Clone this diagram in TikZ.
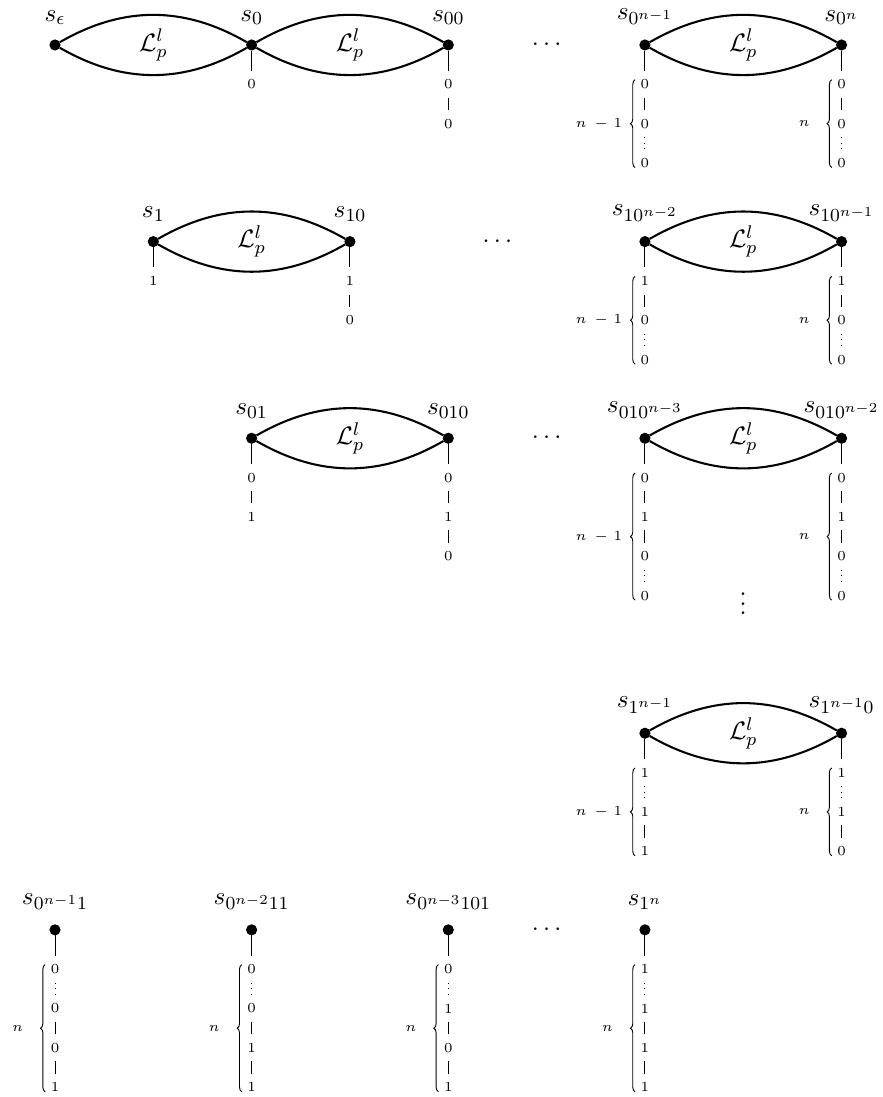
\documentclass[tikz,border=0pt,11pt]{standalone}
\usetikzlibrary{positioning,decorations.pathreplacing}

\begin{document}
\begin{tikzpicture}[
    node distance=0.6cm,
    vertex/.style={circle, minimum size=4.4pt, draw, fill=black, inner sep=0pt},
    vlabel/.style={above=2.5pt},
    bit/.style={rectangle, font=\tiny, inner sep=0pt, minimum height=0.4cm, on grid},
    lens/.style={line width=0.9pt},
    bit_edge/.style={line width=0.4pt},
    dot_edge/.style={line width=0.4pt, dotted},
    brace_line/.style={decorate, decoration={brace, amplitude=2pt}, line width=0.4pt},
    brace_label/.style={font=\tiny}
]
\useasboundingbox (-0.839,0.686) rectangle (12.63,-16.05);

% 第一行顶点
\node[vertex] (se) at (0,0) {};
\node[vertex] (s0) at (3,0) {};
\node[vertex] (s00) at (6,0) {};
\node[vertex] (s0n1) at (9,0) {};
\node[vertex] (s0n) at (12,0) {};

\node[vlabel] (lse) at (se.north) {$s_\epsilon$};
\node[vlabel] (ls0) at (s0.north) {$s_0$};
\node[vlabel] (ls00) at (s00.north) {$s_{00}$};
\node[vlabel] (ls0n1) at (s0n1.north) {$s_{0^{n-1}}$};
\node[vlabel] (ls0n) at (s0n.north) {$s_{0^n}$};

% 第一行透镜边
\draw[lens] (se) to[bend left=30] (s0);
\draw[lens] (se) to[bend right=30] (s0);
\draw[lens] (s0) to[bend left=30] (s00);
\draw[lens] (s0) to[bend right=30] (s00);
\draw[lens] (s0n1) to[bend left=30] (s0n);
\draw[lens] (s0n1) to[bend right=30] (s0n);
\path (se) -- node (L1) {$\mathcal{L}_p^l$} (s0);
\path (s0) -- node (L2) {$\mathcal{L}_p^l$} (s00);
\path (s0n1) -- node (L3) {$\mathcal{L}_p^l$} (s0n);
\node (d1) at (7.5,0) {$\cdots$};

% 第一行比特串
\node[bit, below=of s0] (s0a) {0};
\draw[bit_edge] (s0) -- (s0a);

\node[bit, below=of s00] (s00a) {0};
\node[bit, below=of s00a] (s00b) {0};
\draw[bit_edge] (s00) -- (s00a) -- (s00b);

\node[bit, below=of s0n1] (s0n1a) {0};
\node[bit, below=of s0n1a] (s0n1b) {0};
\node[bit, below=of s0n1b] (s0n1c) {0};
\draw[bit_edge] (s0n1) -- (s0n1a) -- (s0n1b);
\draw[dot_edge] (s0n1b) -- (s0n1c);
\draw[brace_line] ([xshift=-0.15cm, yshift=-0.07cm]s0n1c.center) -- node[brace_label, xshift=-0.55cm] (c1) {$n\hspace{3.5pt}{-}\hspace{2.5pt}1$} ([xshift=-0.15cm, yshift=0.07cm]s0n1a.center);

\node[bit, below=of s0n] (s0na) {0};
\node[bit, below=of s0na] (s0nb) {0};
\node[bit, below=of s0nb] (s0nc) {0};
\draw[bit_edge] (s0n) -- (s0na) -- (s0nb);
\draw[dot_edge] (s0nb) -- (s0nc);
\draw[brace_line] ([xshift=-0.15cm, yshift=-0.07cm]s0nc.center) -- node[brace_label, xshift=-0.42cm] (c2) {$n$} ([xshift=-0.15cm, yshift=0.07cm]s0na.center);

% 第二行顶点
\node[vertex] (s1) at (1.5,-3) {};
\node[vertex] (s10) at (4.5,-3) {};
\node[vertex] (s10n2) at (9,-3) {};
\node[vertex] (s10n1) at (12,-3) {};

\node[vlabel] (ls1) at (s1.north) {$s_1$};
\node[vlabel] (ls10) at (s10.north) {$s_{10}$};
\node[vlabel] (ls10n2) at (s10n2.north) {$s_{10^{n-2}}$};
\node[vlabel] (ls10n1) at (s10n1.north) {$s_{10^{n-1}}$};

\draw[lens] (s1) to[bend left=30] (s10);
\draw[lens] (s1) to[bend right=30] (s10);
\draw[lens] (s10n2) to[bend left=30] (s10n1);
\draw[lens] (s10n2) to[bend right=30] (s10n1);
\path (s1) -- node (L4) {$\mathcal{L}_p^l$} (s10);
\path (s10n2) -- node (L5) {$\mathcal{L}_p^l$} (s10n1);
\node (d2) at (6.75,-3) {$\cdots$};

\node[bit, below=of s1] (s1a) {1};
\draw[bit_edge] (s1) -- (s1a);

\node[bit, below=of s10] (s10a) {1};
\node[bit, below=of s10a] (s10b) {0};
\draw[bit_edge] (s10) -- (s10a) -- (s10b);

\node[bit, below=of s10n2] (s10n2a) {1};
\node[bit, below=of s10n2a] (s10n2b) {0};
\node[bit, below=of s10n2b] (s10n2c) {0};
\draw[bit_edge] (s10n2) -- (s10n2a) -- (s10n2b);
\draw[dot_edge] (s10n2b) -- (s10n2c);
\draw[brace_line] ([xshift=-0.15cm, yshift=-0.07cm]s10n2c.center) -- node[brace_label, xshift=-0.55cm] (c3) {$n\hspace{3.5pt}{-}\hspace{2.5pt}1$} ([xshift=-0.15cm, yshift=0.07cm]s10n2a.center);

\node[bit, below=of s10n1] (s10n1a) {1};
\node[bit, below=of s10n1a] (s10n1b) {0};
\node[bit, below=of s10n1b] (s10n1c) {0};
\draw[bit_edge] (s10n1) -- (s10n1a) -- (s10n1b);
\draw[dot_edge] (s10n1b) -- (s10n1c);
\draw[brace_line] ([xshift=-0.15cm, yshift=-0.07cm]s10n1c.center) -- node[brace_label, xshift=-0.42cm] (c4) {$n$} ([xshift=-0.15cm, yshift=0.07cm]s10n1a.center);

% 第三行顶点
\node[vertex] (s01) at (3,-6) {};
\node[vertex] (s010) at (6,-6) {};
\node[vertex] (s010n3) at (9,-6) {};
\node[vertex] (s010n2) at (12,-6) {};

\node[vlabel] (ls01) at (s01.north) {$s_{01}$};
\node[vlabel] (ls010) at (s010.north) {$s_{010}$};
\node[vlabel] (ls010n3) at (s010n3.north) {$s_{010^{n-3}}$};
\node[vlabel] (ls010n2) at (s010n2.north) {$s_{010^{n-2}}$};

\draw[lens] (s01) to[bend left=30] (s010);
\draw[lens] (s01) to[bend right=30] (s010);
\draw[lens] (s010n3) to[bend left=30] (s010n2);
\draw[lens] (s010n3) to[bend right=30] (s010n2);
\path (s01) -- node (L6) {$\mathcal{L}_p^l$} (s010);
\path (s010n3) -- node (L7) {$\mathcal{L}_p^l$} (s010n2);
\node (d3) at (7.5,-6) {$\cdots$};

\node[bit, below=of s01] (s01a) {0};
\node[bit, below=of s01a] (s01b) {1};
\draw[bit_edge] (s01) -- (s01a) -- (s01b);

\node[bit, below=of s010] (s010a) {0};
\node[bit, below=of s010a] (s010b) {1};
\node[bit, below=of s010b] (s010c) {0};
\draw[bit_edge] (s010) -- (s010a) -- (s010b) -- (s010c);

\node[bit, below=of s010n3] (s010n3a) {0};
\node[bit, below=of s010n3a] (s010n3b) {1};
\node[bit, below=of s010n3b] (s010n3c) {0};
\node[bit, below=of s010n3c] (s010n3d) {0};
\draw[bit_edge] (s010n3) -- (s010n3a) -- (s010n3b) -- (s010n3c);
\draw[dot_edge] (s010n3c) -- (s010n3d);
\draw[brace_line] ([xshift=-0.15cm, yshift=-0.07cm]s010n3d.center) -- node[brace_label, xshift=-0.55cm] (c5) {$n\hspace{3.5pt}{-}\hspace{2.5pt}1$} ([xshift=-0.15cm, yshift=0.07cm]s010n3a.center);

\node[bit, below=of s010n2] (s010n2a) {0};
\node[bit, below=of s010n2a] (s010n2b) {1};
\node[bit, below=of s010n2b] (s010n2c) {0};
\node[bit, below=of s010n2c] (s010n2d) {0};
\draw[bit_edge] (s010n2) -- (s010n2a) -- (s010n2b) -- (s010n2c);
\draw[dot_edge] (s010n2c) -- (s010n2d);
\draw[brace_line] ([xshift=-0.15cm, yshift=-0.07cm]s010n2d.center) -- node[brace_label, xshift=-0.42cm] (c6) {$n$} ([xshift=-0.15cm, yshift=0.07cm]s010n2a.center);

\node (d5) at (10.5,-8.42) {$\vdots$};

% 第四行顶点
\node[vertex] (s1n1) at (9,-10.5) {};
\node[vertex] (s1n10) at (12,-10.5) {};

\node[vlabel] (ls1n1) at (s1n1.north) {$s_{1^{n-1}}$};
\node[vlabel] (ls1n10) at (s1n10.north) {$s_{1^{n-1}0}$};

\draw[lens] (s1n1) to[bend left=30] (s1n10);
\draw[lens] (s1n1) to[bend right=30] (s1n10);
\path (s1n1) -- node (L8) {$\mathcal{L}_p^l$} (s1n10);

\node[bit, below=of s1n1] (s1n1a) {1};
\node[bit, below=of s1n1a] (s1n1b) {1};
\node[bit, below=of s1n1b] (s1n1c) {1};
\draw[dot_edge] (s1n1a) -- (s1n1b);
\draw[bit_edge] (s1n1) -- (s1n1a);
\draw[bit_edge] (s1n1b) -- (s1n1c);
\draw[brace_line] ([xshift=-0.15cm, yshift=-0.07cm]s1n1c.center) -- node[brace_label, xshift=-0.55cm] (c7) {$n\hspace{3.5pt}{-}\hspace{2.5pt}1$} ([xshift=-0.15cm, yshift=0.07cm]s1n1a.center);

\node[bit, below=of s1n10] (s1n10a) {1};
\node[bit, below=of s1n10a] (s1n10b) {1};
\node[bit, below=of s1n10b] (s1n10c) {0};
\draw[dot_edge] (s1n10a) -- (s1n10b);
\draw[bit_edge] (s1n10) -- (s1n10a);
\draw[bit_edge] (s1n10b) -- (s1n10c);
\draw[brace_line] ([xshift=-0.15cm, yshift=-0.07cm]s1n10c.center) -- node[brace_label, xshift=-0.42cm] (c8) {$n$} ([xshift=-0.15cm, yshift=0.07cm]s1n10a.center);

% 最后一行叶子
\node[vertex] (t1) at (0,-13.5) {};
\node[vertex] (t2) at (3,-13.5) {};
\node[vertex] (t3) at (6,-13.5) {};
\node[vertex] (t4) at (9,-13.5) {};

\node[vlabel] (lt1) at (t1.north) {$s_{0^{n-1}1}$};
\node[vlabel] (lt2) at (t2.north) {$s_{0^{n-2}11}$};
\node[vlabel] (lt3) at (t3.north) {$s_{0^{n-3}101}$};
\node[vlabel] (lt4) at (t4.north) {$s_{1^n}$};
\node (d4) at (7.5,-13.5) {$\cdots$};

\node[bit, below=of t1] (t1a) {0};
\node[bit, below=of t1a] (t1b) {0};
\node[bit, below=of t1b] (t1c) {0};
\node[bit, below=of t1c] (t1d) {1};
\draw[bit_edge] (t1) -- (t1a);
\draw[dot_edge] (t1a) -- (t1b);
\draw[bit_edge] (t1b) -- (t1c) -- (t1d);
\draw[brace_line] ([xshift=-0.15cm, yshift=-0.07cm]t1d.center) -- node[brace_label, xshift=-0.42cm] (c9) {$n$} ([xshift=-0.15cm, yshift=0.07cm]t1a.center);

\node[bit, below=of t2] (t2a) {0};
\node[bit, below=of t2a] (t2b) {0};
\node[bit, below=of t2b] (t2c) {1};
\node[bit, below=of t2c] (t2d) {1};
\draw[bit_edge] (t2) -- (t2a);
\draw[dot_edge] (t2a) -- (t2b);
\draw[bit_edge] (t2b) -- (t2c) -- (t2d);
\draw[brace_line] ([xshift=-0.15cm, yshift=-0.07cm]t2d.center) -- node[brace_label, xshift=-0.42cm] (c10) {$n$} ([xshift=-0.15cm, yshift=0.07cm]t2a.center);

\node[bit, below=of t3] (t3a) {0};
\node[bit, below=of t3a] (t3b) {1};
\node[bit, below=of t3b] (t3c) {0};
\node[bit, below=of t3c] (t3d) {1};
\draw[bit_edge] (t3) -- (t3a);
\draw[dot_edge] (t3a) -- (t3b);
\draw[bit_edge] (t3b) -- (t3c) -- (t3d);
\draw[brace_line] ([xshift=-0.15cm, yshift=-0.07cm]t3d.center) -- node[brace_label, xshift=-0.42cm] (c11) {$n$} ([xshift=-0.15cm, yshift=0.07cm]t3a.center);

\node[bit, below=of t4] (t4a) {1};
\node[bit, below=of t4a] (t4b) {1};
\node[bit, below=of t4b] (t4c) {1};
\node[bit, below=of t4c] (t4d) {1};
\draw[bit_edge] (t4) -- (t4a);
\draw[dot_edge] (t4a) -- (t4b);
\draw[bit_edge] (t4b) -- (t4c) -- (t4d);
\draw[brace_line] ([xshift=-0.15cm, yshift=-0.07cm]t4d.center) -- node[brace_label, xshift=-0.42cm] (c12) {$n$} ([xshift=-0.15cm, yshift=0.07cm]t4a.center);

\end{tikzpicture}
\end{document}
